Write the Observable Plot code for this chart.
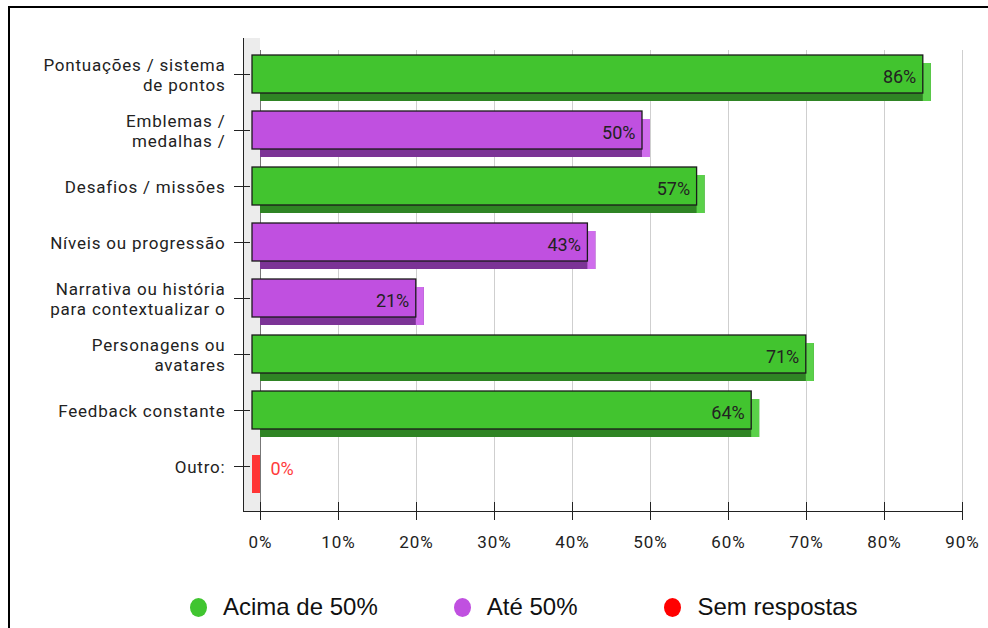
<!DOCTYPE html>
<html><head><meta charset="utf-8">
<script src="https://cdn.jsdelivr.net/npm/d3@7"></script>
<script src="https://cdn.jsdelivr.net/npm/@observablehq/plot@0.6"></script>
<style>
body{margin:0;background:#fff;width:988px;height:628px;overflow:hidden;position:relative;font-family:Roboto,sans-serif}
#frame{position:absolute;left:8px;top:6px;width:1000px;height:700px;border-top:2px solid #000;border-left:2px solid #000;}
#chart{position:absolute;left:0;top:0}
#chart g[aria-label="y-axis tick label"] text{letter-spacing:0.8px}
#chart g[aria-label="x-axis tick label"] text{letter-spacing:1px}
#legend{position:absolute;left:190px;top:592px;height:30px;display:flex;align-items:center;font-family:"Liberation Sans",Arial,sans-serif;font-size:24px;color:#111;white-space:nowrap}
.item{display:flex;align-items:center;margin-right:76px}
.item:nth-child(2){margin-right:87px}
.sw{width:17px;height:19px;border-radius:50%;margin-right:16px}
</style></head><body>
<div id="frame"></div>
<div id="chart"></div>
<div id="legend"></div>
<script>
const categories = [
  "Pontuações / sistema\nde pontos",
  "Emblemas /\nmedalhas /",
  "Desafios / missões",
  "Níveis ou progressão",
  "Narrativa ou história\npara contextualizar o",
  "Personagens ou\navatares",
  "Feedback constante",
  "Outro:"
];
const values = [86, 50, 57, 43, 21, 71, 64, 0];
const xTicks = [0, 10, 20, 30, 40, 50, 60, 70, 80, 90];
const legendLabels = ["Acima de 50%", "Até 50%", "Sem respostas"];
const legendColors = ["#40c530", "#c050e0", "#ff0000"];
const frontColors = ["#42c42f", "#c050e0", "#ff3535"];
const bottomColors = ["#2f8424", "#7c3396", "#c02020"];
const sideColors = ["#5ad149", "#cf6cec", "#ff3535"];

const groupOf = v => v > 50 ? 0 : v > 0 ? 1 : 2;
const rows = categories.map((name, i) => ({name, value: values[i], g: groupOf(values[i])}));
const pos = rows.filter(d => d.value > 0);
const zero = rows.filter(d => d.value === 0);

const H = 580;
const chart = Plot.plot({
  width: 988, height: H,
  marginLeft: 260, marginRight: 26, marginTop: 40, marginBottom: H - 511,
  x: {domain: [0, 90], axis: null},
  y: {domain: categories, paddingInner: 0.326, paddingOuter: 0.3385, align: 0.366, axis: null},
  color: {type: "identity"},
  style: {fontFamily: "Roboto, sans-serif", color: "#222", background: "transparent"},
  marks: [
    Plot.rect([0], {x1: 0, x2: 0, insetLeft: -17, insetTop: -2, fill: "#ececec"}),
    Plot.ruleX(xTicks.slice(1), {stroke: "#cfcfcf", insetTop: 10}),
    Plot.ruleX([0], {stroke: "#777", insetTop: 10}),
    Plot.barX(pos, {x: "value", y: "name", fill: d => bottomColors[d.g], dy: 8}),
    Plot.barX(rows, {x1: "value", x2: "value", y: "name", insetLeft: -8, fill: d => sideColors[d.g], dy: 8}),
    Plot.barX(pos, {x: "value", y: "name", fill: d => frontColors[d.g], stroke: "#1a1a1a", strokeWidth: 1.3, dx: -8}),
    Plot.text(pos, {x: "value", y: "name", text: d => d.value + "%", textAnchor: "end", dx: -15, dy: 3, fill: "#222", fontSize: 18}),
    Plot.text(zero, {x: "value", y: "name", text: d => d.value + "%", textAnchor: "start", dx: 10, dy: 3, fill: "#ff3b3b", fontSize: 18}),
    Plot.ruleX([0], {dx: -17, insetTop: -2, stroke: "#222"}),
    Plot.frame({anchor: "bottom", insetLeft: -17, stroke: "#222"}),
    Plot.axisY({anchor: "left", label: null, tickSize: 16, dx: -10, tickPadding: 9, fontSize: 17, lineHeight: 1.2}),
    Plot.axisX({ticks: xTicks, label: null, tickFormat: d => d + "%", tickSize: 18, dy: -9, tickPadding: 15, fontSize: 17})
  ]
});
document.getElementById("chart").appendChild(chart);

const legend = document.getElementById("legend");
legendLabels.forEach((lab, i) => {
  const it = document.createElement("div");
  it.className = "item";
  const sw = document.createElement("span");
  sw.className = "sw";
  sw.style.background = legendColors[i];
  const tx = document.createElement("span");
  tx.textContent = lab;
  it.appendChild(sw); it.appendChild(tx);
  legend.appendChild(it);
});
</script>
</body></html>
